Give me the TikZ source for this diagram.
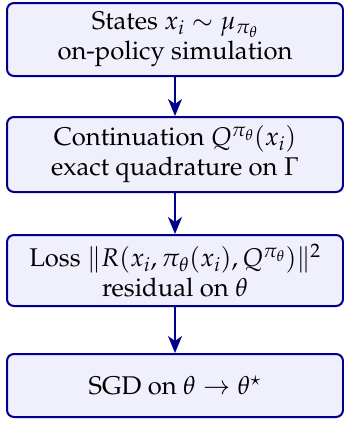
\documentclass[tikz,border=0pt]{standalone}
\usepackage[T1]{fontenc}
\usepackage{mathpazo}
\usetikzlibrary{arrows.meta}
\definecolor{boxdraw}{RGB}{0,0,140}
\definecolor{boxfill}{RGB}{240,240,252}
\tikzset{
  stagebox/.style={draw=boxdraw, fill=boxfill, line width=2pt, rounded corners=7pt,
    minimum width=336pt, align=center, inner sep=0pt,
    font=\fontsize{25.6}{30}\selectfont},
  flowarrow/.style={draw=boxdraw, line width=2pt, -{Stealth[length=17pt,width=14pt,inset=5pt]}}
}
\begin{document}
\begin{tikzpicture}[x=1pt,y=-1pt]
\useasboundingbox (0,0) rectangle (344,423);
\node[stagebox, minimum height=73pt] (s1) at (175,39.5) {States $x_i \sim \mu_{\pi_\theta}$\\on-policy simulation};
\node[stagebox, minimum height=75pt] (s2) at (175,154.5) {Continuation $Q^{\pi_\theta}(x_i)$\\exact quadrature on $\Gamma$};
\node[stagebox, minimum height=71pt] (s3) at (175,270.5) {Loss $\|R(x_i,\pi_\theta(x_i),Q^{\pi_\theta})\|^2$\\residual on $\theta$};
\node[stagebox, minimum height=63pt] (s4) at (175,385.5) {SGD on $\theta \to \theta^\star$};
\draw[flowarrow] (s1) -- (s2);
\draw[flowarrow] (s2) -- (s3);
\draw[flowarrow] (s3) -- (s4);
\end{tikzpicture}
\end{document}
